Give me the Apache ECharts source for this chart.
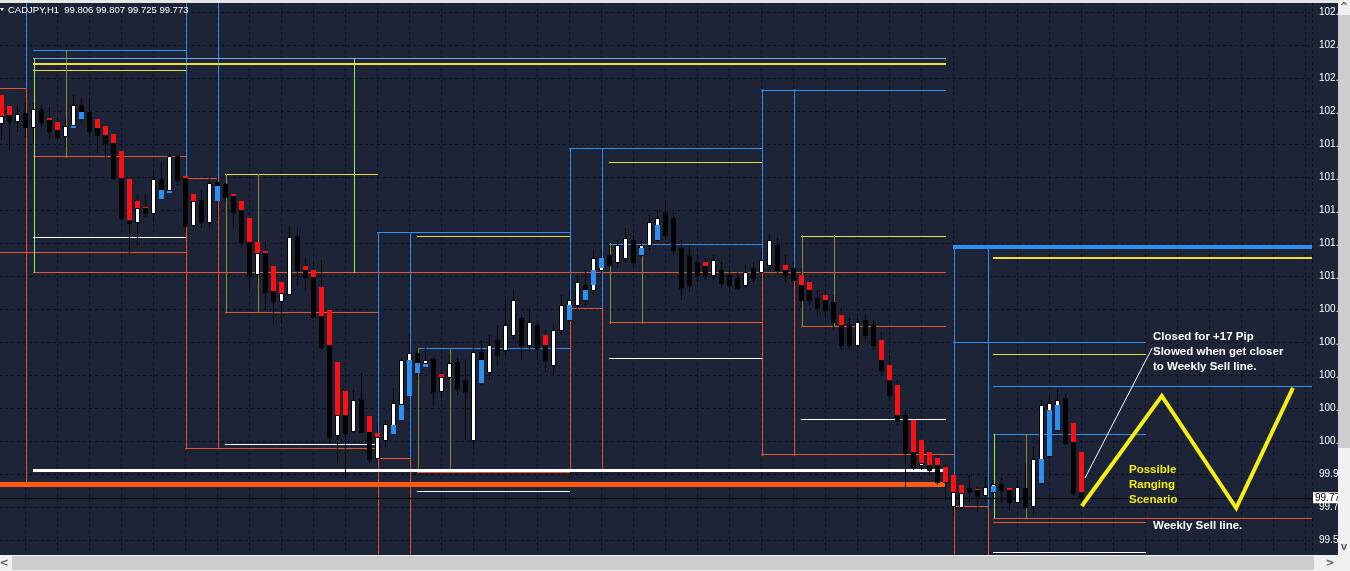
<!DOCTYPE html>
<html><head><meta charset="utf-8">
<script src="https://cdn.jsdelivr.net/npm/echarts@6/dist/echarts.min.js"></script>
<style>html,body{margin:0;padding:0;background:#1e2437;}#c{width:1350px;height:571px;}</style>
</head><body><div id="c"></div>
<script>
// ---------- DATA (CADJPY H1) ----------
const symbolTitle = 'CADJPY,H1  99.806 99.807 99.725 99.773';
const lastClose = 99.773;
// candles: open, high, low, close (bar index = position)
const barOpen  = [101.976,102.021,101.983,102.034,101.948,102.054,101.991,101.932,101.897,101.962,102.077,102.040,101.942,101.903,101.854,101.648,101.403,101.394,101.476,101.442,101.642,101.580,101.780,101.652,101.374,101.521,101.394,101.629,101.615,101.544,101.462,101.276,101.084,101.207,100.988,100.929,100.968,101.309,101.109,101.070,100.839,100.668,100.139,100.257,100.165,100.349,100.159,100.002,100.110,100.198,100.322,100.580,100.623,100.561,100.584,100.400,
  100.480,100.568,100.463,100.110,100.627,100.510,100.698,100.639,100.727,100.827,100.668,100.786,100.727,100.551,100.757,100.815,100.904,101.021,100.992,101.109,101.197,101.156,101.180,101.286,101.197,101.256,101.286,101.450,101.415,101.239,101.197,101.156,101.156,101.080,101.109,101.080,101.062,101.021,101.121,101.098,
  101.139,101.256,101.139,101.121,101.080,100.992,100.945,100.933,100.921,100.845,100.786,100.668,100.815,100.786,100.698,100.551,100.433,100.257,100.039,99.963,99.963,99.963,99.934,99.722,99.716,99.828,99.816,99.787,99.804,99.851,99.816,99.745,99.828,99.722,99.857,100.016,100.169,100.357,100.098,99.806];
const barHigh  = [102.138,102.073,102.070,102.099,102.089,102.079,102.070,102.001,102.011,102.138,102.113,102.119,101.997,101.956,101.907,101.809,101.642,101.550,101.550,101.697,101.746,101.799,101.785,101.662,101.554,101.580,101.648,101.648,101.619,101.556,101.515,101.413,101.276,101.276,101.133,101.041,101.364,101.348,101.178,101.158,101.168,100.874,100.570,100.400,100.404,100.502,100.251,100.188,100.228,100.414,100.590,100.733,100.649,100.649,100.600,100.512,
  100.610,100.592,100.580,100.668,100.698,100.727,100.786,100.933,100.992,100.845,100.875,100.815,100.757,100.786,100.962,100.992,101.080,101.109,101.227,101.227,101.256,101.286,101.356,101.315,101.286,101.433,101.462,101.521,101.450,101.286,101.256,101.197,101.180,101.197,101.156,101.109,101.098,101.139,101.156,101.215,
  101.315,101.297,101.197,101.156,101.121,101.051,100.992,100.980,100.962,100.886,100.827,100.827,100.845,100.815,100.745,100.610,100.463,100.286,100.228,100.110,100.051,100.022,99.963,99.904,99.845,99.904,99.834,99.892,99.875,99.886,99.828,99.875,99.975,100.069,100.345,100.374,100.404,100.386,100.210,99.807];
const barLow   = [101.874,101.815,101.923,101.883,101.854,101.948,101.877,101.874,101.834,101.942,101.972,101.903,101.799,101.776,101.638,101.403,101.197,101.256,101.423,101.394,101.521,101.560,101.609,101.325,101.364,101.354,101.364,101.423,101.511,101.364,101.237,100.992,101.031,100.874,100.796,100.796,100.962,101.021,100.992,100.825,100.643,100.090,99.983,99.887,100.149,100.149,99.973,99.992,100.071,100.139,100.224,100.365,100.463,100.531,100.316,100.355,
  100.463,100.374,100.110,100.081,100.433,100.463,100.551,100.610,100.698,100.580,100.627,100.580,100.510,100.492,100.727,100.786,100.875,100.904,100.962,101.080,101.109,101.121,101.156,101.121,101.180,101.227,101.274,101.286,101.197,100.933,100.980,101.039,101.051,101.051,101.004,100.992,100.992,101.004,101.039,101.062,
  101.109,101.080,101.039,101.021,100.886,100.904,100.845,100.827,100.757,100.639,100.639,100.651,100.698,100.639,100.492,100.345,100.198,99.834,99.934,99.934,99.904,99.845,99.757,99.657,99.698,99.745,99.687,99.745,99.757,99.745,99.698,99.740,99.698,99.669,99.845,100.004,100.157,100.081,99.781,99.725];
const barClose = [102.015,101.987,102.026,101.952,102.054,101.981,101.928,101.893,101.956,102.077,102.044,101.928,101.903,101.858,101.648,101.413,101.384,101.472,101.442,101.642,101.580,101.780,101.638,101.368,101.515,101.394,101.623,101.603,101.540,101.452,101.276,101.080,101.207,100.982,100.929,100.972,101.305,101.109,101.070,100.835,100.659,100.129,100.257,100.153,100.345,100.159,99.996,100.126,100.204,100.330,100.580,100.623,100.561,100.580,100.394,100.478,
  100.563,100.415,100.392,100.627,100.580,100.668,100.610,100.786,100.933,100.668,100.804,100.651,100.580,100.757,100.904,100.933,101.039,100.933,101.180,101.180,101.139,101.256,101.297,101.156,101.256,101.392,101.415,101.315,101.227,101.004,101.021,101.080,101.080,101.168,101.033,101.021,101.004,101.098,101.062,101.168,
  101.286,101.109,101.080,101.051,100.933,100.933,100.886,100.875,100.804,100.668,100.668,100.804,100.727,100.668,100.521,100.374,100.228,100.033,99.951,99.975,99.934,99.863,99.863,99.804,99.798,99.804,99.781,99.834,99.851,99.816,99.745,99.834,99.716,99.998,100.316,100.327,100.345,100.092,99.798,99.773];
// trend-bar highlights: [bar index, upper price, lower price]
const redMarks = [[0,102.138,102.015],[1,102.073,102.021],[6,102.001,101.991],[7,101.981,101.932],[12,101.997,101.942],[13,101.956,101.903],[14,101.907,101.854],[15,101.809,101.648],[16,101.642,101.403],[17,101.515,101.472],[18,101.482,101.476],[23,101.662,101.652],[24,101.554,101.515],[29,101.556,101.544],[30,101.515,101.462],[31,101.413,101.276],[32,101.276,101.207],[33,101.223,101.207],[34,101.133,100.988],[35,101.041,100.972],[38,101.133,101.109],[39,101.109,101.070],[40,101.011,100.839],[41,100.874,100.668],[42,100.570,100.257],[43,100.400,100.257],[46,100.251,100.159],[47,100.149,100.126],[55,100.498,100.478],
  [68,100.727,100.668],[88,101.156,101.133],[98,101.139,101.109],[100,101.080,101.021],[101,101.039,100.992],[103,100.962,100.933],[105,100.845,100.786],[110,100.698,100.580],[111,100.551,100.463],[112,100.433,100.257],[114,100.228,100.039],[115,100.110,99.975],[116,100.039,99.963],[117,100.004,99.963],[118,99.951,99.863],[119,99.904,99.804],[120,99.845,99.798],[122,99.822,99.816],[126,99.828,99.816],[134,100.210,100.098],[135,100.039,99.806]];
const blueMarks = [[9,101.956,101.942],[10,102.040,101.997],[20,101.580,101.527],[21,101.576,101.564],[27,101.603,101.515],[49,100.198,100.145],[50,100.316,100.228],[51,100.580,100.369],[52,100.561,100.502],[53,100.557,100.537],
  [60,100.580,100.445],[71,100.904,100.815],[73,100.992,100.933],[74,101.109,101.021],[75,101.180,101.121],[80,101.239,101.197],[82,101.374,101.286],[124,99.839,99.804],[130,99.998,99.857],[131,100.286,100.016],[132,100.316,100.169]];

// level lines, horizontal: [from, to, price]   vertical: [at, price1, price2]
const orangeH = [[0,4,102.179],[5,24,101.774],[0,24,101.221],[5,119,101.098],[24,28,101.650],[29,48,100.868],[24,48,100.063],[48,52,100.004],[53,72,99.922],[72,76,100.886],[77,96,100.798],[72,96,99.934],[96,100,101.098],[101,119,100.780],[96,120,100.022],[120,124.25,99.722],[125,164.9,99.657],[125,144,99.622]];
const blueH = [[5,24,102.403],[48,72,101.327],[53,72,100.651],[72,96,101.827],[77,96,101.268],[96,119,102.173],[120,144,100.686],[125,164.9,100.422],[125,144,100.145]];
const lightBlueH = [[5,119,102.356]];
const yellowH = [[5,24,102.285],[29,48,101.674],[53,72,101.315],[77,96,101.744],[101,119,101.315],[125,144,100.621]];
const whiteH = [[5,24,101.303],[29,48,100.081],[53,72,99.810],[77,96,100.592],[101,119,100.233],[125,144,99.451]];
const yellowThickH = [[5,119,102.323],[125,164.9,101.180]];
const whiteThickH = [[5,119,99.928]];
const orangeThickH = [[0,119,99.851]];
const blueThickH = [[120,164.9,101.245]];
const blueV = [[4,102.70,102.179],[24,102.70,101.650],[28,102.70,101.650],[48,101.327,100.004],[52,101.327,100.004],[72,101.827,100.886],[76,101.827,100.886],[96,102.173,101.098],[100,102.173,101.098],[120,101.245,99.722],[124.25,101.245,99.722]];
const orangeV = [[4,102.179,99.851],[24,101.650,100.063],[28,101.650,100.063],[48,100.004,99.33],[52,100.004,99.33],[72,100.886,99.934],[76,100.886,99.934],[96,101.098,100.022],[100,101.098,100.022],[120,99.722,99.33],[124.25,99.722,99.33]];
const greenV = [[5,102.356,101.098],[45,102.356,101.098],[125,100.145,99.657]];
const oliveV = [[9,102.403,101.774],[29,101.674,100.868],[33,101.674,100.868],[53,100.651,99.922],[57,100.651,99.922],[77,101.268,100.798],[81,101.268,100.798],[101,101.315,100.780],[105,101.315,100.780],[129,100.145,99.657]];
// drawn scenario and pointer
const scenarioPath = [[136.1,99.722],[146.1,100.369],[155.4,99.710],[162.5,100.416]];
const pointerPath = [[136.5,99.886],[144.9,100.651]];
// price axis
const priceMin = 99.328, priceMax = 102.685, priceStep = 0.194;

// ---------- CHART ----------
const chart = echarts.init(document.getElementById('c'), null, {renderer:'canvas', width:1350, height:571});
const BG = '#1e2437', GRID = '#0d1120';

const candleData = barOpen.map((o,i)=>[i+1, o, barHigh[i], barLow[i], barClose[i]]);
const toH = a => a.map(s=>[s[0], s[2], s[1], s[2]]);
const toV = a => a.map(s=>[s[0], s[1], s[0], s[2]]);

// crisp segments drawn as filled rectangles; thin coloured ones kept on even pixel rows/columns
function segSeries(segs, color, width, even){
  const pos = v => even ? Math.round(v/2)*2 : Math.floor(v) - Math.floor((width-1)/2);
  return {type:'custom', coordinateSystem:'cartesian2d', data:segs, z:2, silent:true, clip:true,
    encode:{x:[0,2], y:[1,3]},
    renderItem:(p,api)=>{
      const a = api.coord([api.value(0),api.value(1)]), b = api.coord([api.value(2),api.value(3)]);
      const horiz = Math.abs(a[1]-b[1]) < 0.01;
      if (horiz) {
        const x1 = Math.round(Math.min(a[0],b[0])), x2 = Math.round(Math.max(a[0],b[0]));
        return {type:'rect', shape:{x:x1, y:pos(a[1]), width:x2-x1+1, height:width}, style:{fill:color}};
      }
      const y1 = Math.round(Math.min(a[1],b[1])), y2 = Math.round(Math.max(a[1],b[1]));
      return {type:'rect', shape:{x:pos(a[0]), y:y1, width, height:y2-y1+1}, style:{fill:color}};
    }};
}
function markSeries(marks, color){
  return {type:'custom', coordinateSystem:'cartesian2d', z:6, silent:true, clip:true,
    data: marks.map(m=>[m[0]+1, m[1], m[2]]), encode:{x:0, y:[1,2]},
    renderItem:(p,api)=>{
      const a = api.coord([api.value(0),api.value(1)]), b = api.coord([api.value(0),api.value(2)]);
      const x = Math.floor(a[0]) - 2;
      const y = Math.round(a[1]);
      return {type:'rect', shape:{x, y, width:5, height:Math.max(Math.round(b[1])-y,1)}, style:{fill:color}};
    }};
}

const option = {
  backgroundColor: BG,
  animation:false,
  grid:[{left:-7, right:38, top:2, bottom:-2, containLabel:false, outerBoundsMode:'none'}],
  xAxis:[{type:'value', min:0, max:164.875, interval:4, show:true,
    axisLine:{show:false}, axisTick:{show:false}, axisLabel:{show:false},
    splitLine:{show:true, lineStyle:{color:GRID, width:1, type:[3,3]}}}],
  yAxis:[{type:'value', position:'right', min:priceMin, max:priceMax, interval:priceStep,
    axisLine:{show:true, lineStyle:{color:'#ffffff', width:1}},
    axisTick:{show:true, inside:false, length:3, lineStyle:{color:'#ffffff'}},
    axisLabel:{show:true, color:'#ffffff', fontSize:10, fontFamily:'Liberation Sans', margin:7,
      showMaxLabel:false, formatter:v=>v.toFixed(3)},
    splitLine:{show:true, lineStyle:{color:GRID, width:1, type:[3,3]}}}],
  series:[
    segSeries(toH(orangeH), '#e4572a', 1, true),
    segSeries(toV(orangeV), '#e4572a', 1, true),
    segSeries(toH(blueH), '#2f8ff0', 1, true),
    segSeries(toV(blueV), '#2f8ff0', 1, true),
    segSeries(toH(lightBlueH), '#6aa8e8', 1, true),
    segSeries(toH(yellowH), '#e6dc3c', 1, true),
    segSeries(toV(oliveV), '#8c8a2a', 1, true),
    segSeries(toV(greenV), '#a6e35a', 1, true),
    segSeries(toH(whiteH), '#ffffff', 1, false),
    segSeries(toH(yellowThickH), '#f0e030', 2, false),
    segSeries(toH(whiteThickH), '#ffffff', 3, false),
    segSeries(toH(orangeThickH), '#ff5a14', 5, false),
    segSeries(toH(blueThickH), '#2f8ff0', 4, false),
    {type:'custom', coordinateSystem:'cartesian2d', z:5, silent:true, clip:true,
      data:candleData, encode:{x:0, y:[1,2,3,4]},
      renderItem:(p,api)=>{
        const x=api.value(0), o=api.value(1), h=api.value(2), l=api.value(3), c=api.value(4);
        const po=api.coord([x,o]), ph=api.coord([x,h]), pl=api.coord([x,l]), pc=api.coord([x,c]);
        const cx = Math.floor(po[0]) + 0.5;
        const top = Math.round(Math.min(po[1],pc[1])), bot = Math.round(Math.max(po[1],pc[1]));
        return {type:'group', children:[
          {type:'line', shape:{x1:cx, y1:Math.round(ph[1]), x2:cx, y2:Math.round(pl[1])}, style:{stroke:'#000', lineWidth:1}},
          {type:'rect', shape:{x:cx-2, y:top+0.5, width:4, height:Math.max(bot-top,1)}, style:{fill: c>=o ? '#ffffff' : '#000000', stroke:'#000', lineWidth:1}}
        ]};
      }},
    markSeries(redMarks, '#ff1010'),
    markSeries(blueMarks, '#2f8ff0'),
    {type:'line', data:pointerPath, symbol:'none', z:7, silent:true, lineStyle:{color:'#ffffff', width:1}},
    {type:'line', data:scenarioPath, symbol:'none', z:7, silent:true, lineStyle:{color:'#f4ee12', width:4, join:'miter'},
      markLine:{silent:true, symbol:'none', animation:false,
        lineStyle:{color:'#000000', width:1, type:'solid'},
        label:{show:true, position:'end', distance:1, formatter:lastClose.toFixed(3), color:'#000', backgroundColor:'#fff',
          fontSize:10, fontFamily:'Liberation Sans', padding:[1,1,0,2]},
        data:[{yAxis:lastClose}]}}
  ],
  graphic:[
    {type:'text', x:8, y:10, z:100, style:{text:symbolTitle, fill:'#ffffff', font:'9.5px "Liberation Sans"', verticalAlign:'middle'}},
    {type:'polygon', z:100, shape:{points:[[0,8],[4,8],[2,11]]}, style:{fill:'#ffffff'}},
    {type:'text', x:1153, y:337, z:100, style:{text:'Closed for +17 Pip', fill:'#ffffff', font:'bold 11.5px "Liberation Sans"', verticalAlign:'middle'}},
    {type:'text', x:1153, y:352, z:100, style:{text:'Slowed when get closer', fill:'#ffffff', font:'bold 11.5px "Liberation Sans"', verticalAlign:'middle'}},
    {type:'text', x:1153, y:367, z:100, style:{text:'to Weekly Sell line.', fill:'#ffffff', font:'bold 11.5px "Liberation Sans"', verticalAlign:'middle'}},
    {type:'text', x:1129, y:470, z:100, style:{text:'Possible', fill:'#f4ee12', font:'bold 11.5px "Liberation Sans"', verticalAlign:'middle'}},
    {type:'text', x:1129, y:485, z:100, style:{text:'Ranging', fill:'#f4ee12', font:'bold 11.5px "Liberation Sans"', verticalAlign:'middle'}},
    {type:'text', x:1129, y:500, z:100, style:{text:'Scenario', fill:'#f4ee12', font:'bold 11.5px "Liberation Sans"', verticalAlign:'middle'}},
    {type:'text', x:1153, y:526, z:100, style:{text:'Weekly Sell line.', fill:'#ffffff', font:'bold 11.5px "Liberation Sans"', verticalAlign:'middle'}},
    {type:'rect', z:200, shape:{x:0, y:0, width:1338, height:3}, style:{fill:'#e6e6e6'}},
    {type:'rect', z:200, shape:{x:1338, y:0, width:12, height:571}, style:{fill:'#f0f0f0'}},
    {type:'rect', z:201, shape:{x:1338, y:15, width:12, height:433}, style:{fill:'#cdcdcd'}},
    {type:'text', z:202, x:1344, y:7, style:{text:'^', fill:'#606060', font:'bold 10px "DejaVu Sans"', align:'center', verticalAlign:'middle'}},
    {type:'text', z:202, x:1344, y:547, style:{text:'v', fill:'#606060', font:'bold 10px "DejaVu Sans"', align:'center', verticalAlign:'middle'}},
    {type:'rect', z:200, shape:{x:0, y:555, width:1350, height:16}, style:{fill:'#f0f0f0'}},
    {type:'rect', z:201, shape:{x:12, y:556, width:1302, height:14}, style:{fill:'#cdcdcd'}},
    {type:'text', z:202, x:4, y:563, style:{text:'<', fill:'#606060', font:'bold 11px "DejaVu Sans"', align:'center', verticalAlign:'middle'}},
    {type:'text', z:202, x:1330, y:563, style:{text:'>', fill:'#606060', font:'bold 11px "DejaVu Sans"', align:'center', verticalAlign:'middle'}}
  ]
};
chart.setOption(option);
</script></body></html>
